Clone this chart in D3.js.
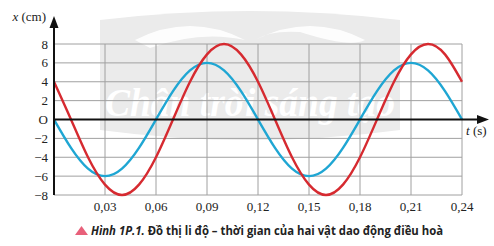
<!DOCTYPE html>
<html>
<head>
<meta charset="utf-8">
<script src="https://cdn.jsdelivr.net/npm/d3@7"></script>
<style>
  body { margin: 0; background: #fff; }
  svg { display: block; }
</style>
</head>
<body>
<script>
// data (t in s, x in cm)
var times = [0, 0.01, 0.02, 0.03, 0.04, 0.05, 0.06, 0.07, 0.08, 0.09, 0.10, 0.11, 0.12,
             0.13, 0.14, 0.15, 0.16, 0.17, 0.18, 0.19, 0.20, 0.21, 0.22, 0.23, 0.24];
var blueX = [0, -3, -5.2, -6, -5.2, -3, 0, 3, 5.2, 6, 5.2, 3, 0,
             -3, -5.2, -6, -5.2, -3, 0, 3, 5.2, 6, 5.2, 3, 0];
var redX = [4, 0, -4, -6.9, -8, -6.9, -4, 0, 4, 6.9, 8, 6.9, 4,
            0, -4, -6.9, -8, -6.9, -4, 0, 4, 6.9, 8, 6.9, 4];
var xTicks = [0.03, 0.06, 0.09, 0.12, 0.15, 0.18, 0.21, 0.24];
var yTicks = [-8, -6, -4, -2, 0, 2, 4, 6, 8];
var yTickLabels = ['\u22128', '\u22126', '\u22124', '\u22122', 'O', '2', '4', '6', '8'];
var caption = 'Đồ thị li độ – thời gian của hai vật dao động điều hoà';

var width = 494, height = 246;

var svg = d3.select('body').append('svg')
    .attr('width', width)
    .attr('height', height);

var x = d3.scaleLinear().domain([0, 0.24]).range([54, 462]);
var y = d3.scaleLinear().domain([-8, 8]).range([195, 44]);

// watermark (faint badge behind the grid)
var wm = svg.append('g');
wm.append('path')
    .attr('d', 'M100,20 Q250,2 400,20 L400,130 Q250,150 100,130 Z')
    .attr('fill', '#ebebeb');
wm.append('path')
    .attr('d', 'M135,40 Q190,12 245,40 Q200,30 150,48 Z M255,40 Q310,12 365,40 Q350,48 300,32 Q270,30 255,40 Z')
    .attr('fill', '#fff')
    .attr('opacity', 0.9);
wm.append('text')
    .attr('x', 105).attr('y', 116)
    .attr('textLength', 290)
    .attr('lengthAdjust', 'spacingAndGlyphs')
    .style('font-family', 'Liberation Serif')
    .style('font-style', 'italic')
    .style('font-weight', 'bold')
    .style('font-size', '40px')
    .attr('fill', '#fff')
    .text('Chân trời sáng tạo');

// grid
var grid = svg.append('g').attr('stroke', '#a0a0a0').attr('stroke-width', 1);
grid.selectAll('line.v')
    .data(xTicks)
    .enter().append('line')
    .attr('x1', function (d) { return x(d); })
    .attr('x2', function (d) { return x(d); })
    .attr('y1', y(8)).attr('y2', y(-8));
grid.selectAll('line.h')
    .data(yTicks.filter(function (d) { return d !== 0; }))
    .enter().append('line')
    .attr('x1', x(0)).attr('x2', x(0.24))
    .attr('y1', function (d) { return y(d); })
    .attr('y2', function (d) { return y(d); });

// curves
var line = d3.line()
    .x(function (d) { return x(d[0]); })
    .y(function (d) { return y(d[1]); })
    .curve(d3.curveNatural);

svg.append('path')
    .datum(d3.zip(times, blueX))
    .attr('d', line)
    .attr('fill', 'none')
    .attr('stroke', '#1fa6d3')
    .attr('stroke-width', 2.4);

svg.append('path')
    .datum(d3.zip(times, redX))
    .attr('d', line)
    .attr('fill', 'none')
    .attr('stroke', '#d62a30')
    .attr('stroke-width', 2.4);

// axes
svg.append('line')
    .attr('x1', x(0)).attr('x2', 480)
    .attr('y1', y(0)).attr('y2', y(0))
    .attr('stroke', '#111').attr('stroke-width', 2);
svg.append('path')
    .attr('d', 'M' + 489 + ',' + y(0) + ' l-12,-4.5 l0,9 Z')
    .attr('fill', '#111');
svg.append('line')
    .attr('x1', x(0)).attr('x2', x(0))
    .attr('y1', y(-8)).attr('y2', 26)
    .attr('stroke', '#111').attr('stroke-width', 2);
svg.append('path')
    .attr('d', 'M' + x(0) + ',16 l-4.5,12 l9,0 Z')
    .attr('fill', '#111');

// tick labels
svg.selectAll('text.ytick')
    .data(yTicks)
    .enter().append('text')
    .attr('class', 'ytick')
    .attr('x', 48)
    .attr('y', function (d) { return y(d) + 4.5; })
    .attr('text-anchor', 'end')
    .style('font-family', 'Liberation Serif')
    .style('font-size', '13px')
    .attr('fill', '#222')
    .text(function (d, i) { return yTickLabels[i]; });

svg.selectAll('text.xtick')
    .data(xTicks)
    .enter().append('text')
    .attr('class', 'xtick')
    .attr('x', function (d) { return x(d); })
    .attr('y', 211)
    .attr('text-anchor', 'middle')
    .style('font-family', 'Liberation Serif')
    .style('font-size', '13px')
    .attr('fill', '#222')
    .text(function (d) { return d.toFixed(2).replace('.', ','); });

// axis titles
var xt = svg.append('text')
    .attr('x', 46).attr('y', 21)
    .attr('text-anchor', 'end')
    .style('font-family', 'Liberation Serif')
    .style('font-size', '13px')
    .attr('fill', '#222');
xt.append('tspan').style('font-style', 'italic').text('x');
xt.append('tspan').text(' (cm)');

var tt = svg.append('text')
    .attr('x', 466).attr('y', 135)
    .style('font-family', 'Liberation Serif')
    .style('font-size', '13px')
    .attr('fill', '#222');
tt.append('tspan').style('font-style', 'italic').text('t');
tt.append('tspan').text(' (s)');

// caption
svg.append('path')
    .attr('d', 'M75,235 L81.5,226 L88,235 Z')
    .attr('fill', '#e8607a');
var cap = svg.append('text')
    .attr('x', 91).attr('y', 235)
    .style('font-family', 'Open Sans')
    .style('font-weight', 'bold')
    .style('font-size', '12px')
    .attr('fill', '#222');
cap.append('tspan').style('font-style', 'italic').text('Hình 1P.1.');
cap.append('tspan').text(' ' + caption);
cap.attr('textLength', 352).attr('lengthAdjust', 'spacingAndGlyphs');
</script>
</body>
</html>
